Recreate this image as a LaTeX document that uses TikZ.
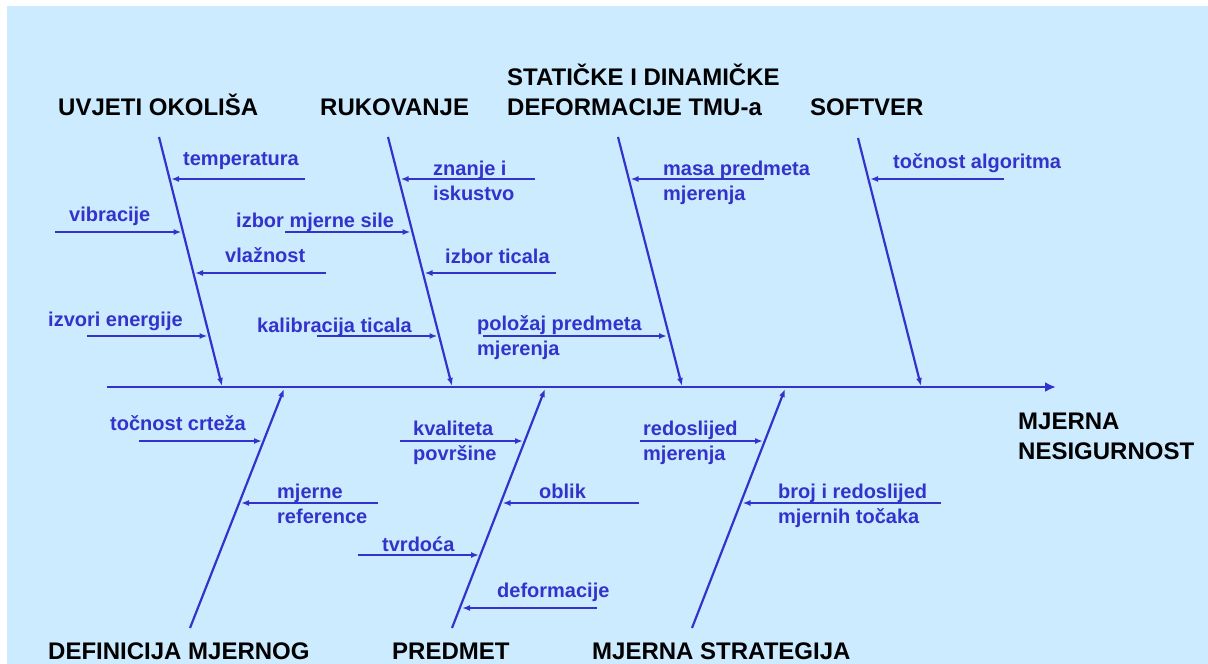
\documentclass[tikz,border=0pt]{standalone}
\usepackage{fontspec}
\setmainfont{Liberation Sans}
\usetikzlibrary{arrows.meta}
\definecolor{fishblue}{RGB}{51,51,204}
\definecolor{paleblue}{RGB}{204,235,255}
\tikzset{
  bone/.style={fishblue,line width=2.2pt},
  cause/.style={fishblue,line width=2pt},
  spine/.style={fishblue,line width=2.2pt,-{Latex[length=11pt,width=10pt]}}
}
\begin{document}
\begin{tikzpicture}[x=1pt,y=-1pt,>={Latex[length=8pt,width=6pt]}]
  \useasboundingbox (0,0) rectangle (1208,664);
  \fill[paleblue] (7,6) rectangle (1208,664);
  \coordinate (tail) at (107,387);
  \coordinate (head) at (1056,387);
  \coordinate (ok1) at (159,137);
  \coordinate (ok2) at (222,386);
  \coordinate (ru1) at (388,137);
  \coordinate (ru2) at (452,386);
  \coordinate (st1) at (618,137);
  \coordinate (st2) at (682,386);
  \coordinate (so1) at (858,138);
  \coordinate (so2) at (921,386);
  \coordinate (de1) at (190,628);
  \coordinate (de2) at (284,389);
  \coordinate (pr1) at (452,628);
  \coordinate (pr2) at (545,389);
  \coordinate (ms1) at (692,628);
  \coordinate (ms2) at (785,389);
  \coordinate (temp1) at (305,179);
  \coordinate (temp2) at (171,179);
  \coordinate (vib1) at (55,232);
  \coordinate (vib2) at (181.5,232);
  \coordinate (vlaz1) at (326,273);
  \coordinate (vlaz2) at (195,273);
  \coordinate (izv1) at (87,336);
  \coordinate (izv2) at (207.5,336);
  \coordinate (zn1) at (535,179);
  \coordinate (zn2) at (400.5,179);
  \coordinate (sila1) at (285,232);
  \coordinate (sila2) at (410.5,232);
  \coordinate (tic1) at (556,273);
  \coordinate (tic2) at (424.5,273);
  \coordinate (kal1) at (317,336);
  \coordinate (kal2) at (437.5,336);
  \coordinate (masa1) at (764,179);
  \coordinate (masa2) at (630.5,179);
  \coordinate (pol1) at (483,336);
  \coordinate (pol2) at (667,336);
  \coordinate (alg1) at (1004,179);
  \coordinate (alg2) at (870,179);
  \coordinate (crt1) at (139,441);
  \coordinate (crt2) at (262,441);
  \coordinate (ref1) at (378,503);
  \coordinate (ref2) at (241,503);
  \coordinate (kv1) at (400,441);
  \coordinate (kv2) at (523,441);
  \coordinate (obl1) at (639,503);
  \coordinate (obl2) at (502.5,503);
  \coordinate (tvr1) at (358,555);
  \coordinate (tvr2) at (479,555);
  \coordinate (def1) at (597,608);
  \coordinate (def2) at (462,608);
  \coordinate (red1) at (640,441);
  \coordinate (red2) at (763,441);
  \coordinate (br1) at (941,503);
  \coordinate (br2) at (742.5,503);
  \begin{scope}
    \tikzstyle{every node}=[anchor=base west,inner sep=0pt,align=left,font=\bfseries\fontsize{24}{30}\selectfont]
    \node (okolis) at (58,115) {UVJETI OKOLIŠA};
    \node (rukovanje) at (320,115) {RUKOVANJE};
    \node (statika) at (507,115) {STATIČKE I DINAMIČKE\\DEFORMACIJE TMU-a};
    \node (softver) at (810,115) {SOFTVER};
    \node (nesig) at (1018,459) {MJERNA\\NESIGURNOST};
    \node (definicija) at (48,659) {DEFINICIJA MJERNOG};
    \node (predmet) at (392,659) {PREDMET};
    \node (strategija) at (592,659) {MJERNA STRATEGIJA};
  \end{scope}
  \begin{scope}
    \tikzstyle{every node}=[anchor=base west,inner sep=0pt,align=left,text=fishblue,font=\bfseries\fontsize{20}{25}\selectfont]
    \node (temp) at (183,165) {temperatura};
    \node (vib) at (69,221) {vibracije};
    \node (vlaz) at (225,262) {vlažnost};
    \node (izv) at (48,326) {izvori energije};
    \node (zn) at (433,200) {znanje i\\iskustvo};
    \node (sila) at (236,227) {izbor mjerne sile};
    \node (tic) at (445,263) {izbor ticala};
    \node (kal) at (257,332) {kalibracija ticala};
    \node (masa) at (663,200) {masa predmeta\\mjerenja};
    \node (pol) at (477,355) {položaj predmeta\\mjerenja};
    \node (alg) at (893,168) {točnost algoritma};
    \node (crt) at (110,430) {točnost crteža};
    \node (ref) at (277,523) {mjerne\\reference};
    \node (kv) at (413,460) {kvaliteta\\površine};
    \node (obl) at (539,498) {oblik};
    \node (tvr) at (382,551) {tvrdoća};
    \node (def) at (497,597) {deformacije};
    \node (red) at (643,460) {redoslijed\\mjerenja};
    \node (br) at (778,523) {broj i redoslijed\\mjernih točaka};
  \end{scope}
  \draw[spine] (tail) -- (head);
  \draw[->,bone] (ok1) -- (ok2);
  \draw[->,bone] (ru1) -- (ru2);
  \draw[->,bone] (st1) -- (st2);
  \draw[->,bone] (so1) -- (so2);
  \draw[->,bone] (de1) -- (de2);
  \draw[->,bone] (pr1) -- (pr2);
  \draw[->,bone] (ms1) -- (ms2);
  \draw[->,cause] (temp1) -- (temp2);
  \draw[->,cause] (vib1) -- (vib2);
  \draw[->,cause] (vlaz1) -- (vlaz2);
  \draw[->,cause] (izv1) -- (izv2);
  \draw[->,cause] (zn1) -- (zn2);
  \draw[->,cause] (sila1) -- (sila2);
  \draw[->,cause] (tic1) -- (tic2);
  \draw[->,cause] (kal1) -- (kal2);
  \draw[->,cause] (masa1) -- (masa2);
  \draw[->,cause] (pol1) -- (pol2);
  \draw[->,cause] (alg1) -- (alg2);
  \draw[->,cause] (crt1) -- (crt2);
  \draw[->,cause] (ref1) -- (ref2);
  \draw[->,cause] (kv1) -- (kv2);
  \draw[->,cause] (obl1) -- (obl2);
  \draw[->,cause] (tvr1) -- (tvr2);
  \draw[->,cause] (def1) -- (def2);
  \draw[->,cause] (red1) -- (red2);
  \draw[->,cause] (br1) -- (br2);
\end{tikzpicture}
\end{document}
